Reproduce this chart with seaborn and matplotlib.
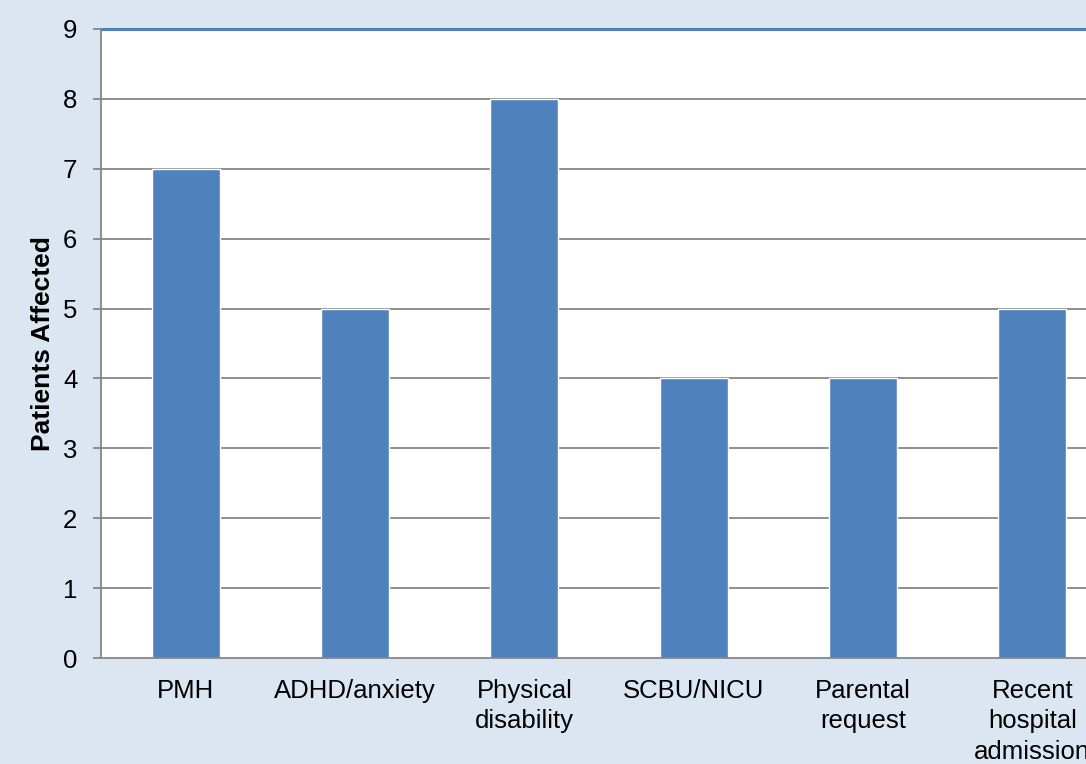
import matplotlib
matplotlib.use("Agg")
import matplotlib.pyplot as plt
import seaborn as sns
import pandas as pd

categories = ["PMH", "ADHD/anxiety", "Physical\ndisability", "SCBU/NICU",
              "Parental\nrequest", "Recent\nhospital\nadmission"]
patients = [7, 5, 8, 4, 4, 5]
y_ticks = list(range(0, 10))

df = pd.DataFrame({"category": categories, "patients": patients})

sns.set_theme(style="white")
plt.rcParams["font.family"] = ["Liberation Sans", "DejaVu Sans"]

bg = "#dce6f2"
bar_color = "#4f81bd"
grid_color = "#868686"

fig = plt.figure(figsize=(10.86, 7.64), dpi=100, facecolor=bg)
ax = fig.add_axes([101 / 1086, 1 - 658 / 764, 1016 / 1086, (658 - 29) / 764])
ax.set_facecolor("white")

sns.barplot(data=df, x="category", y="patients", color=bar_color,
            width=0.4, saturation=1, ax=ax, zorder=3)

ax.set_ylim(0, 9)
ax.set_xlim(-0.5, len(categories) - 0.5)
ax.set_yticks(y_ticks)
ax.set_yticklabels([str(t) for t in y_ticks], fontsize=18.5, color="black")

for t in y_ticks[1:-1]:
    ax.axhline(t, color=grid_color, lw=1.3, zorder=1)
ax.axhline(9, color=bar_color, lw=2.2, zorder=4, clip_on=False)

for s in ["top", "right"]:
    ax.spines[s].set_visible(False)
for s in ["left", "bottom"]:
    ax.spines[s].set_color(grid_color)
    ax.spines[s].set_linewidth(1.3)
    ax.spines[s].set_zorder(5)

# category labels centred under bars, tick marks at category boundaries
ax.set_xticks(range(len(categories)))
ax.set_xticklabels(categories, fontsize=18.5, color="black", linespacing=1.35)
ax.tick_params(axis="x", length=0, pad=15)
ax.set_xticks([i - 0.5 for i in range(len(categories) + 1)], minor=True)
ax.tick_params(axis="x", which="minor", length=6, width=1.3, color=grid_color, direction="out")
ax.tick_params(axis="y", length=6, width=1.3, color=grid_color, direction="out", pad=11, left=True)

ax.set_xlabel("")
ax.set_ylabel("Patients Affected", fontsize=19, fontweight="bold", labelpad=6, color="black")

fig.savefig("out.png", dpi=100, facecolor=bg)
